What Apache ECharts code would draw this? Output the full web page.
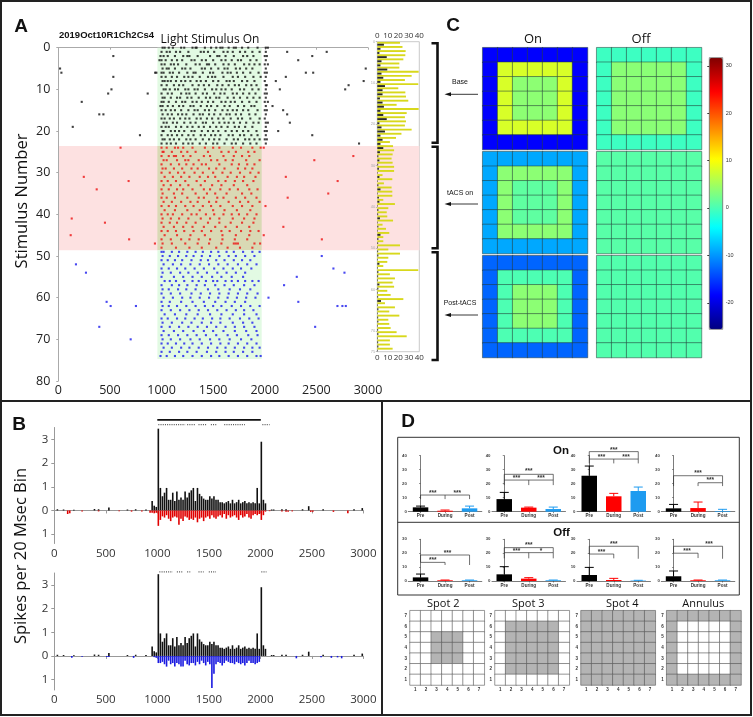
<!DOCTYPE html>
<html><head><meta charset="utf-8">
<script src="https://cdn.jsdelivr.net/npm/echarts@6/dist/echarts.min.js"></script>
<style>html,body{margin:0;padding:0;background:#fff}#c{width:753px;height:717px}</style>
</head><body><div id="c"></div>
<script>
// ---------------- DATA ----------------
const stimWindow = [960, 1970];
const tacsTrials = [23.6, 48.6];
const stimEnd = 74.7;
// Raster spike times (ms) per trial
const rasterBase = [
[1010,1030,1070,1110,1190,1220,1300,1330,1340,1420,1480,1530,1570,1590,1650,1700,1720,1780,1840,1930,2010,2030],
[1000,1050,1080,1140,1180,1260,1380,1410,1450,1510,1600,1640,1690,1760,1810,1880,1950,2010,2217,2600],
[990,1020,1060,1130,1210,1250,1270,1350,1470,1540,1560,1620,1700,1790,1830,1890,2000,2020,533,2460],
[980,1000,1040,1100,1150,1200,1290,1320,1390,1430,1500,1580,1620,1680,1740,1770,1860,1920,2010,2324],
[1000,1030,1090,1120,1160,1240,1330,1370,1440,1460,1520,1600,1650,1710,1800,1850,1900,1950,2000,2030],
[1010,1050,1070,1130,1200,1230,1280,1390,1420,1480,1550,1610,1640,1720,1760,1820,1880,2010,17,2978],
[950,1000,1020,1080,1110,1170,1250,1310,1330,1400,1470,1500,1590,1640,1670,1730,1790,1860,1940,2000,2020,30,938,2398,2469],
[1000,1040,1100,1150,1220,1260,1300,1370,1450,1490,1520,1600,1690,1740,1810,1890,1960,2010,533,2204],
[1010,1030,1060,1090,1140,1190,1230,1280,1340,1380,1430,1500,1550,1630,1660,1700,1780,1830,1900,2000,2107,2958],
[1000,1050,1120,1170,1210,1300,1360,1410,1460,1540,1590,1650,1710,1750,1820,1870,1920,2010,2020,2812],
[1020,1040,1080,1130,1160,1230,1260,1320,1350,1420,1490,1530,1580,1620,1680,1760,1800,1880,1940,2010,515,2146,2779],
[1000,1060,1100,1190,1240,1270,1330,1400,1440,1510,1570,1610,1690,1730,1790,1850,1910,2000,2020,483,866],
[1010,1030,1090,1150,1180,1250,1290,1360,1430,1470,1530,1560,1640,1700,1760,1830,1890,1950,2010],
[1000,1020,1070,1140,1200,1230,1300,1340,1390,1450,1500,1580,1620,1670,1710,1780,1850,1920,2000,2030,227],
[990,1010,1060,1110,1170,1210,1280,1310,1380,1440,1480,1540,1610,1660,1740,1800,1870,1900,2010,2075],
[1000,1040,1090,1130,1190,1260,1320,1350,1420,1460,1520,1590,1640,1690,1730,1790,1840,1930,2000,2020,2178],
[1010,1060,1100,1160,1200,1240,1310,1370,1400,1460,1510,1570,1630,1660,1720,1770,1850,1910,2010,397,437,2217],
[1000,1030,1080,1120,1180,1230,1270,1340,1380,1440,1490,1550,1600,1670,1740,1780,1860,1950,2000],
[1020,1050,1110,1150,1220,1280,1330,1400,1430,1500,1560,1610,1650,1700,1760,1820,1890,1940,2010,2030,2243],
[1000,1040,1070,1140,1190,1250,1300,1360,1410,1470,1530,1580,1640,1710,1750,1810,1880,2010,140],
[1010,1020,1090,1130,1170,1220,1290,1320,1390,1450,1500,1550,1620,1680,1730,1790,1840,1920,2000,2020,2130],
[1000,1060,1100,1150,1200,1260,1310,1380,1420,1480,1520,1570,1650,1690,1760,1800,1870,1930,2010,791,2460],
[1010,1030,1080,1120,1170,1240,1280,1330,1400,1460,1510,1560,1630,1700,1740,1810,1850,1900,1950,2000,2020],
[1000,1050,1090,1140,1210,1260,1300,1370,1430,1500,1540,1610,1680,1720,1790,1860,1920,2010,2913]
];
const rasterTacs = [
[1000,1050,1130,1160,1210,1300,1420,1500,1560,1690,1770,1880,1960,1990,603],
[1010,1020,1100,1190,1250,1330,1450,1580,1650,1720,1840,1900],
[1000,1070,1120,1140,1210,1280,1410,1470,1600,1700,1780,1850,2858],
[1020,1050,1150,1230,1260,1360,1480,1540,1620,1690,1820,1950,2480],
[1000,1090,1170,1240,1310,1390,1430,1560,1680,1750,1830,1900],
[1010,1040,1120,1200,1290,1350,1460,1530,1610,1740,1810,1880],
[1000,1080,1160,1220,1320,1400,1500,1590,1670,1760,1860,1940],
[1030,1110,1190,1270,1370,1450,1520,1640,1730,1800,1910,247,2204],
[1000,1060,1140,1230,1340,1420,1550,1620,1710,1790,1890,681,2706],
[1020,1090,1180,1260,1380,1490,1580,1700,1830],
[1000,1070,1150,1210,1300,1410,1470,1570,1660,1740,1850,1930,372],
[1010,1120,1200,1330,1440,1520,1630,1780,1870,2615],
[1000,1050,1130,1250,1360,1410,1540,1600,1720,1810,1920,2222],
[1020,1100,1190,1280,1350,1460,1530,1650,1760,1840,1950],
[1000,1070,1140,1230,1310,1400,1480,1570,1690,1780,1880,2007],
[1030,1130,1250,1370,1500,1610,1730,1860],
[1000,1060,1110,1200,1290,1340,1430,1510,1600,1680,1750,1830,1920],
[1010,1090,1170,1260,1380,1470,1560,1690,1800,1900,130],
[1000,1080,1150,1240,1330,1450,1560,1670,1780,1890,452],
[1020,1120,1210,1300,1410,1520,1620,1730,1850,2180],
[1000,1060,1140,1220,1310,1390,1480,1580,1660,1770,1860,1940],
[1030,1150,1280,1420,1590,1720,1850,1990,120],
[1000,1090,1190,1270,1360,1470,1590,1710,1830,686,2553],
[1010,1100,1230,1350,1460,1580,1700,1720,1740,1900,1955,936],
[1000,1140,1270,1390,1530,1640,1760,1880]
];
const rasterPost = [
[1000,1020,1100,1170,1250,1330,1400,1480,1550,1630,1700,1790,1880,1950],
[1010,1080,1160,1240,1310,1390,1470,1560,1650,1720,1810,1900,2552],
[1000,1060,1130,1200,1290,1380,1450,1530,1610,1700,1780,1860],
[1020,1110,1190,1280,1370,1460,1550,1640,1740,1830,1920,171],
[1000,1070,1150,1230,1320,1410,1510,1600,1690,1770,1870,2665],
[1010,1090,1180,1260,1350,1440,1540,1630,1720,1810,268,2772],
[1000,1120,1210,1300,1390,1490,1580,1680,1790,2310],
[1030,1080,1140,1220,1300,1360,1430,1500,1540,1620,1680,1740,1810,1880,1940],
[1000,1100,1170,1250,1340,1420,1520,1610,1700,1800,1900,2187],
[1010,1070,1160,1240,1330,1450,1550,1660,1760,1860],
[1000,1090,1180,1290,1380,1470,1560,1650,1740,1830,1930],
[1020,1110,1200,1280,1370,1460,1550,1640,1730,1820,1910,2036],
[1000,1080,1190,1300,1410,1520,1620,1710,1810,468,2325],
[1010,1070,1150,1240,1330,1420,1500,1580,1680,1770,1860,1950,507,752,2704,2752,2785],
[1000,1090,1180,1270,1360,1450,1540,1630,1720,1800,1890],
[1030,1130,1240,1350,1470,1580,1690,1800,1920],
[1000,1060,1150,1230,1320,1400,1490,1570,1660,1760,1850,1940],
[1010,1100,1200,1290,1390,1480,1570,1690,1790,1880],
[1000,1080,1170,1260,1350,1440,1530,1620,1710,1800,1900,397,2488],
[1020,1120,1210,1310,1410,1500,1600,1710,1820,1920],
[1000,1070,1160,1250,1340,1430,1530,1640,1730,1840,1930],
[1010,1090,1180,1280,1370,1470,1560,1660,1770,1870,701],
[1000,1060,1140,1220,1300,1390,1480,1570,1650,1740,1830,1920],
[1020,1100,1190,1270,1360,1450,1540,1620,1710,1800,1880,1950],
[1000,1080,1170,1250,1340,1440,1530,1620,1700,1790,1880],
[990,1050,1130,1210,1300,1390,1480,1560,1650,1740,1830,1920,1960]
];
// Per-trial spike counts (strip histogram)
const stripLight = [21.6,24,27,26.7,24.8,21,21,39.4,32.7,26.3,39,20,26.7,27.3,29.5,18.4,39.4,28,26.3,27.3,26.3,32.7,23,17.8,
 12,15,16,14.6,13.6,14.6,16,16,5,14.3,6.3,13.6,14.3,14.3,5.7,16.8,10.5,9,9.5,15,5,8.3,11.4,5.7,5.7,
 21.6,10.5,21.6,10.5,9.5,5.7,39,12,16.8,14.6,16,9.5,12.7,24.8,7.3,16.8,11.4,21,10.5,11.4,12.7,18.4,28,12,12,14.6];
const stripDark = [6.3,3,2,9,4,3,9.5,4,5.7,3,7.3,5,5,2.5,5,6.3,3,5.7,9,2,4,7.3,3,5,
 3,5.7,2.5,1,2,0.8,1.5,0.5,2,0.5,1,3,0.5,1.5,2,0.5,1,0.8,2.5,0.5,1,0.5,3,1,0.8,
 0.5,0.8,1,0.5,2,0.5,1,0.8,0.5,2,1,0.5,0.8,3.5,0.5,1,0.5,0.8,1,0.5,0.8,1,0.5,0.8,1,0.5];
// PSTH, 20 ms bins, 0-3000 ms
const binMs = 20;
const histBase = [0,0.05,0,0,0.04,0,0,0,0,0.03, 0,0,0,0,0,0,0,0,0,0.06, 0,0.05,0,0,0,0,0.12,0,0,0, 0,0,0,0,0,0.04,0,0,0,0.05,
 0,0,0,0,0.04,0,0, 0.4,0.2,0.15,
 3.45,0.95,0.6,0.75,0.95,0.45,0.45,0.75,0.4,0.8, 0.45,0.55,0.45,0.8,0.55,0.75,0.85,0.95,0.4,0.95,
 0.7,0.6,0.5,0.45,0.45,0.6,0.5,0.6,0.45,0.45, 0.35,0.35,0.3,0.35,0.4,0.3,0.45,0.3,0.35,0.45,
 0.3,0.35,0.4,0.3,0.35,0.3,0.35,0.3,0.95,0.3,
 2.9,0.45,0.3,0,0,0.04,0.04,0,0,0, 0.05,0,0.05,0,0,0,0,0,0,0, 0.05,0,0,0.18,0,0,0,0,0,0,
 0.05,0,0,0,0,0,0,0,0,0, 0,0,0,0,0,0.05,0,0,0,0.1];
const histTacs = [0,0,0,0,0,0,0.15,0.12,0,0, 0,0,0,0.04,0,0,0,0,0,0, 0,0.04,0,0,0,0,0,0,0,0, 0,0.03,0,0,0,0,0,0.05,0,0,
 0,0,0.04,0,0,0,0.1, 0.1,0.12,0.1,
 0.65,0.4,0.25,0.3,0.2,0.35,0.45,0.3,0.25,0.3, 0.6,0.35,0.45,0.25,0.3,0.4,0.35,0.4,0.3,0.5,
 0.35,0.3,0.45,0.3,0.25,0.35,0.2,0.3,0.35,0.25, 0.2,0.3,0.15,0.35,0.2,0.3,0.25,0.2,0.3,0.4,
 0.2,0.3,0.25,0.15,0.3,0.35,0.2,0.15,0.2,0.15,
 0.4,0.2,0.05,0,0.03,0,0,0,0,0, 0.04,0,0.05,0.05,0,0.04,0,0,0,0, 0,0,0,0,0.06,0.05,0,0,0,0,
 0,0,0,0,0,0.06,0,0,0,0, 0,0,0.12,0,0,0,0,0,0,0];
const histPost = [0,0,0,0,0,0,0,0,0.08,0, 0,0,0,0.03,0,0,0,0,0,0, 0,0,0,0,0,0.04,0.04,0,0,0, 0,0,0,0,0,0,0,0,0.08,0,
 0,0,0,0,0,0,0, 0,0.05,0.08,
 0.3,0.3,0.25,0.35,0.45,0.2,0.35,0.3,0.45,0.3, 0.35,0.45,0.45,0.2,0.35,0.4,0.3,0.3,0.4,0.25,
 0.35,0.2,0.3,0.4,0.25,0.35,1.35,0.75,0.35,0.25, 0.3,0.4,0.3,0.2,0.25,0.3,0.3,0.35,0.25,0.3,
 0.35,0.3,0.4,0.3,0.2,0.3,0.3,0.35,0.3,0.25,
 0,0,0,0,0,0,0,0,0,0, 0,0,0,0,0,0,0,0.1,0,0, 0,0,0,0,0,0,0,0,0,0.05,
 0,0,0,0,0.08,0,0,0.06,0,0.1, 0,0,0,0,0,0,0,0,0,0];
const respLine = [1000, 2005, 3.82];
const sigTop = [[1010,1270],[1290,1370],[1400,1480],[1520,1580],[1650,1850],[2020,2090]];
const sigBot = [[1020,1150],[1190,1245],[1290,1320],[1400,1450],[1500,1570],[2010,2060]];
// Receptive-field maps (7x7), ring layout and ring values
const ringLayout = [
 [0,0,0,0,0,0,0],
 [0,1,1,1,1,1,0],
 [0,1,2,2,2,1,0],
 [0,1,2,2,2,1,0],
 [0,1,2,2,2,1,0],
 [0,1,1,1,1,1,0],
 [0,0,0,0,0,0,0]];
const heatOnRings  = [[-18.5,8,3.8],[-9,3.7,1.2],[-12.8,0.2,3.7]];   // Base, tACS on, Post-tACS
const heatOffRings = [[-0.7,3.6,3.6],[0.8,0.8,0.8],[0.5,0.5,0.5]];
const cbRange = [-25.6, 31.7];
const cbTicks = [-20,-10,0,10,20,30];
// Panel D
const dCats = ['Pre','During','Post'];
const dOnMeans = [[3.1,0.7,2.4],[9.0,2.9,1.9],[25.7,11.0,14.8],[2.4,2.6,0.5]];
const dOnErr   = [[0.9,0.5,1.6],[4.8,0.4,1.4],[6.9,2.1,2.8],[2.8,4.3,1.2]];
const dOffMeans = [[2.6,0.5,0.5],[4.8,1.7,0.5],[4.3,0.7,0.3],[3.4,0.5,0.5]];
const dOffErr   = [[2.4,0.2,0.2],[5.5,0.7,0.2],[5.5,1.2,0.2],[3.8,0.2,0.2]];
const dOnBrackets = [
 [[[0,9],[0,11.9],[2,11.9],[2,9]], [[1,11.9],[1,9]]],
 [[[0,22.6],[0,26.7],[2,26.7],[2,22.6]], [[0,19],[0,22.6],[2,22.6],[2,19]], [[1,22.6],[1,19]]],
 [[[0,37.6],[0,42.9],[2,42.9],[2,37.6]], [[0,34.5],[0,37.6],[2,37.6],[2,34.5]], [[1,37.6],[1,34.5]]],
 [[[0,18.3],[0,25.7],[2,25.7],[2,20.7]], [[1,18.3],[1,20.7],[2,20.7],[2,18.3]]]];
const dOnStars = [
 [[0.5,14.3,'***'],[1.5,14.3,'***']],
 [[1,29.8,'***'],[0.5,24.6,'***'],[1.5,24.6,'***']],
 [[1,45,'***'],[0.5,40,'***'],[1.5,40,'***']],
 [[1,28.3,'***'],[1.5,23,'***']]];
const dOffBrackets = [
 [[[0,13.4],[0,18.7],[2,18.7],[2,11.5]], [[0,13.4],[1,13.4],[1,11.5]]],
 [[[0,20.4],[0,24],[2,24],[2,20.4]], [[0,16.3],[0,20.4],[2,20.4],[2,16.3]], [[1,20.4],[1,16.3]]],
 [[[0,19.4],[0,25],[2,25],[2,16]], [[0,19.4],[1,19.4],[1,16.3]]],
 [[[0,20],[0,25],[2,25],[2,16]], [[0,20],[1,20],[1,16.5]]]];
const dOffStars = [
 [[1.1,20.9,'***'],[0.5,15.9,'***']],
 [[1,26.4,'***'],[0.5,22.3,'***'],[1.5,22.3,'*']],
 [[1,27.4,'***'],[0.5,21.8,'***']],
 [[1.45,27.2,'***'],[0.55,22.3,'***']]];
const spotNames = ['Spot 2','Spot 3','Spot 4','Annulus'];
const spotRings = [[2],[1,2],[0,1,2],[0]];
const gridLabels = ['1','2','3','4','5','6','7'];

// ---------------- BUILD ----------------
const F = "'Open Sans', sans-serif";
const FA = "'Liberation Sans', Arial, sans-serif";
const plain = v => String(v);
const grids=[], xAxes=[], yAxes=[], series=[];
const addG=g=>{grids.push(g);return grids.length-1;};
const addX=a=>{xAxes.push(a);return xAxes.length-1;};
const addY=a=>{yAxes.push(a);return yAxes.length-1;};
const hiddenVal = (gi,min,max)=>({gridIndex:gi,type:'value',min,max,show:false,splitLine:{show:false}});

// Panel A raster
const gA = addG({left:58.3, top:47.7, width:309.7, height:333.3});
const xA = addX({gridIndex:gA,type:'value',min:0,max:3000,interval:500,
  axisLine:{lineStyle:{color:'#aaa'}},axisTick:{length:2,lineStyle:{color:'#aaa'}},
  axisLabel:{fontSize:12.5,color:'#222',fontFamily:F,margin:3,formatter:plain},splitLine:{show:false}});
const yA = addY({gridIndex:gA,type:'value',min:0,max:80,interval:10,inverse:true,
  axisLine:{show:true,lineStyle:{color:'#aaa'}},axisTick:{show:true,length:2,lineStyle:{color:'#aaa'}},
  axisLabel:{fontSize:12.5,color:'#222',fontFamily:F,margin:8,formatter:plain},splitLine:{show:false}});
series.push({type:'scatter',xAxisIndex:xA,yAxisIndex:yA,data:[],z:1,silent:true,
  markArea:{silent:true,data:[
    [{xAxis:stimWindow[0],yAxis:0,itemStyle:{color:'#e2fae3'}},{xAxis:stimWindow[1],yAxis:tacsTrials[0]}],
    [{xAxis:stimWindow[0],yAxis:tacsTrials[0],itemStyle:{color:'#d9d9b4'}},{xAxis:stimWindow[1],yAxis:tacsTrials[1]}],
    [{xAxis:stimWindow[0],yAxis:tacsTrials[1],itemStyle:{color:'#e2fae3'}},{xAxis:stimWindow[1],yAxis:stimEnd}]
  ]}});
function rasterPts(rows,off){const p=[];rows.forEach((r,i)=>r.forEach(t=>p.push([t,off+i])));return p;}
[[rasterBase,0,'#111'],[rasterTacs,rasterBase.length,'#ee1111'],[rasterPost,rasterBase.length+rasterTacs.length,'#1a1aee']]
 .forEach(([rows,off,col])=>series.push({type:'scatter',xAxisIndex:xA,yAxisIndex:yA,z:3,symbol:'rect',symbolSize:2.1,
   itemStyle:{color:col},data:rasterPts(rows,off)}));

// Strip histogram
const gS = addG({left:377.3, top:41.7, width:42, height:310, show:true, borderColor:'#bbb', borderWidth:0.8});
const stripAx = pos=>({gridIndex:gS,type:'value',min:0,max:40,interval:10,position:pos,
  axisLine:{show:false},axisTick:{show:false},axisLabel:{fontSize:8,color:'#333',fontFamily:F,margin:2},splitLine:{show:false}});
const xS = addX(stripAx('top')); addX(stripAx('bottom'));
const trialNames = stripLight.map((v,i)=>String(i+1));
const yS = addY({gridIndex:gS,type:'category',data:trialNames,inverse:true,show:false});
addY({gridIndex:gS,type:'value',min:0,max:75,interval:10,inverse:true,position:'left',
  axisLine:{show:false},axisTick:{show:true,length:1.5,lineStyle:{color:'#bbb'}},
  axisLabel:{fontSize:4,color:'#aaa',margin:2},splitLine:{show:false}});
series.push({type:'bar',xAxisIndex:xS,yAxisIndex:yS,data:stripLight,barWidth:1.9,barGap:'0%',itemStyle:{color:'#d8d81c'}});
series.push({type:'bar',xAxisIndex:xS,yAxisIndex:yS,data:stripDark,barWidth:1.9,barGap:'0%',itemStyle:{color:'#2a2a2a'}});

// Panel B
function psthGrid(top,height,down,downCol,sig,sigY){
  const g = addG({left:54.3, top, width:309, height});
  const xi = addX({gridIndex:g,type:'value',min:0,max:3000,interval:500,
    axisLine:{lineStyle:{color:'#999'}},axisTick:{length:3,lineStyle:{color:'#999'}},
    axisLabel:{fontSize:11.5,color:'#333',fontFamily:F,margin:4,formatter:plain},splitLine:{show:false}});
  const yi = addY({gridIndex:g,type:'value',min:3.5-height/23.7,max:3.5,
    axisLine:{show:true,lineStyle:{color:'#999'}},
    axisTick:{show:true,length:3,customValues:[-1,0,1,2,3],lineStyle:{color:'#999'}},
    axisLabel:{fontSize:11.5,color:'#333',fontFamily:F,margin:6,customValues:[-1,0,1,2,3],formatter:v=>String(Math.abs(v))},
    splitLine:{show:false}});
  series.push({type:'bar',xAxisIndex:xi,yAxisIndex:yi,barWidth:1.6,barGap:'-100%',itemStyle:{color:'#111'},
    data:histBase.map((v,i)=>[i*binMs+binMs/2,v])});
  series.push({type:'bar',xAxisIndex:xi,yAxisIndex:yi,barWidth:1.6,barGap:'-100%',itemStyle:{color:downCol},
    data:down.map((v,i)=>[i*binMs+binMs/2,-v])});
  series.push({type:'custom',xAxisIndex:xi,yAxisIndex:yi,clip:false,silent:true,
    data:sig.map(s=>[s[0],sigY]),
    renderItem:(p,api)=>{const s=sig[p.dataIndex];const a=api.coord([s[0],sigY]),b=api.coord([s[1],sigY]);
      return {type:'line',shape:{x1:a[0],y1:a[1],x2:b[0],y2:b[1]},style:{stroke:'#555',lineWidth:1.3,lineDash:[1,1.2]}};}});
  return [xi,yi];
}
const [xB1,yB1] = psthGrid(427.5,116,histTacs,'#e00000',sigTop,3.62);
series.push({type:'custom',xAxisIndex:xB1,yAxisIndex:yB1,clip:false,silent:true,data:[[respLine[0],respLine[2]]],
  renderItem:(p,api)=>{const a=api.coord([respLine[0],respLine[2]]),b=api.coord([respLine[1],respLine[2]]);
    return {type:'line',shape:{x1:a[0],y1:a[1],x2:b[0],y2:b[1]},style:{stroke:'#111',lineWidth:1.6}};}});
psthGrid(573,117,histPost,'#1a1ae0',sigBot,3.55);

// Panel C heatmaps
const heatCols=[482.7,596.7], heatRows=[47.7,151.7,255.7];
const heatSeries=[];
[heatOnRings,heatOffRings].forEach((rings,c)=>rings.forEach((rv,r)=>{
  const g=addG({left:heatCols[c],top:heatRows[r],width:104.8,height:101.8});
  const xi=addX({gridIndex:g,type:'category',data:gridLabels,show:false});
  const yi=addY({gridIndex:g,type:'category',data:gridLabels,show:false});
  const data=[];ringLayout.forEach((row,yy)=>row.forEach((k,xx)=>data.push([xx,6-yy,rv[k]])));
  heatSeries.push(series.length);
  series.push({type:'heatmap',xAxisIndex:xi,yAxisIndex:yi,data,silent:true,
    itemStyle:{borderColor:'rgba(35,60,55,0.75)',borderWidth:0.7}});
}));
// colorbar tick axis
const gCB=addG({left:709.3,top:57.7,width:13.4,height:271.6});
addX(hiddenVal(gCB,0,1));
addY({gridIndex:gCB,type:'value',min:cbRange[0],max:cbRange[1],position:'right',
  axisLine:{show:false},axisTick:{show:true,inside:true,length:2,customValues:cbTicks,lineStyle:{color:'#333'}},
  axisLabel:{fontSize:5.5,color:'#333',margin:3,customValues:cbTicks},splitLine:{show:false}});

// Panel D
const dLefts=[408.3,492,577,661.3];
function dChart(left,top,height,ymax,means,errs,brk,stars){
  const g=addG({left,top,width:73.5,height});
  const xc=addX({gridIndex:g,type:'category',data:dCats,
    axisLine:{lineStyle:{color:'#444',width:0.7}},axisTick:{show:true,alignWithLabel:true,length:1.5,lineStyle:{color:'#444',width:0.6}},
    axisLabel:{fontSize:4.6,fontWeight:'bold',color:'#333',fontFamily:FA,margin:2,interval:0}});
  const xv=addX(hiddenVal(g,-0.5,2.5));
  const yi=addY({gridIndex:g,type:'value',min:0,max:ymax,interval:10,
    axisLine:{show:true,lineStyle:{color:'#444',width:0.7}},axisTick:{show:true,length:1.5,lineStyle:{color:'#444',width:0.6}},
    axisLabel:{fontSize:4.3,fontWeight:'bold',color:'#444',fontFamily:FA,margin:1.5},splitLine:{show:false}});
  const cols=['#000000','#ff0000','#1e9bf0'];
  series.push({type:'bar',xAxisIndex:xc,yAxisIndex:yi,barWidth:15.5,silent:true,
    data:means.map((m,i)=>({value:m,itemStyle:{color:cols[i]}}))});
  series.push({type:'custom',xAxisIndex:xc,yAxisIndex:yi,clip:false,silent:true,
    data:means.map((m,i)=>[i,m+errs[i]]),
    renderItem:(p,api)=>{const i=p.dataIndex;const b=api.coord([i,means[i]]),t=api.coord([i,means[i]+errs[i]]);
      const st={stroke:cols[i],lineWidth:1};
      return {type:'group',children:[{type:'line',shape:{x1:b[0],y1:b[1],x2:t[0],y2:t[1]},style:st},
        {type:'line',shape:{x1:t[0]-4.5,y1:t[1],x2:t[0]+4.5,y2:t[1]},style:st}]};}});
  series.push({type:'custom',xAxisIndex:xv,yAxisIndex:yi,clip:false,silent:true,
    data:brk.map(b=>b[0]),
    renderItem:(p,api)=>({type:'polyline',shape:{points:brk[p.dataIndex].map(q=>api.coord(q))},
      style:{stroke:'#333',lineWidth:0.7,fill:null}})});
  series.push({type:'custom',xAxisIndex:xv,yAxisIndex:yi,clip:false,silent:true,
    data:stars.map(s=>[s[0],s[1]]),
    renderItem:(p,api)=>{const s=stars[p.dataIndex];const c=api.coord([s[0],s[1]]);
      return {type:'text',x:c[0],y:c[1]+1.2,style:{text:s[2],fontSize:6.5,fontWeight:'bold',fontFamily:FA,fill:'#333',
        textAlign:'center',textVerticalAlign:'middle',align:'center',verticalAlign:'middle'}};}});
}
dLefts.forEach((l,i)=>dChart(l,455.7,56,40,dOnMeans[i],dOnErr[i],dOnBrackets[i],dOnStars[i]));
dLefts.forEach((l,i)=>dChart(l,539.3,41.7,30,dOffMeans[i],dOffErr[i],dOffBrackets[i],dOffStars[i]));

// Spot grids
const spotLefts=[410,495,581,666.7];
const spotSeries=[];
spotLefts.forEach((l,s)=>{
  const g=addG({left:l,top:610.7,width:74.3,height:74.3});
  const xi=addX({gridIndex:g,type:'category',data:gridLabels,axisLine:{show:false},axisTick:{show:false},
    axisLabel:{fontSize:4.5,fontWeight:'bold',color:'#333',fontFamily:FA,margin:2}});
  const yi=addY({gridIndex:g,type:'category',data:gridLabels,axisLine:{show:false},axisTick:{show:false},
    axisLabel:{fontSize:4.5,fontWeight:'bold',color:'#333',fontFamily:FA,margin:3}});
  const data=[];ringLayout.forEach((row,yy)=>row.forEach((k,xx)=>data.push([xx,6-yy,spotRings[s].includes(k)?1:0])));
  spotSeries.push(series.length);
  series.push({type:'heatmap',xAxisIndex:xi,yAxisIndex:yi,data,silent:true,itemStyle:{borderColor:'#555',borderWidth:0.6}});
});

// ---------------- GRAPHICS ----------------
const txt=(x,y,t,size,opt={})=>Object.assign({type:'text',x,y,z:10,silent:true,style:Object.assign({text:t,fontSize:size,
  fontFamily:opt.family||F,fontWeight:opt.weight||'normal',fill:opt.fill||'#111',
  textAlign:opt.align||'center',textVerticalAlign:'middle'},opt.style||{})},opt.rotation?{rotation:opt.rotation}:{});
const G=[];
G.push({type:'rect',z:10,silent:true,shape:{x:1,y:1,width:750,height:714},style:{fill:null,stroke:'#222',lineWidth:2}});
G.push({type:'line',z:10,silent:true,shape:{x1:1,y1:401,x2:751,y2:401},style:{stroke:'#222',lineWidth:2}});
G.push({type:'line',z:10,silent:true,shape:{x1:382,y1:401,x2:382,y2:715},style:{stroke:'#222',lineWidth:2}});
G.push(txt(21,27,'A',19,{family:FA,weight:'bold'}));
G.push(txt(19,425,'B',19,{family:FA,weight:'bold'}));
G.push(txt(453,26,'C',19,{family:FA,weight:'bold'}));
G.push(txt(408,422,'D',19,{family:FA,weight:'bold'}));
G.push(txt(59,35,'2019Oct10R1Ch2Cs4',9.5,{family:FA,weight:'bold',align:'left'}));
G.push(txt(210,39.5,'Light Stimulus On',12,{}));
G.push(txt(22,201,'Stimulus Number',16.5,{rotation:Math.PI/2}));
G.push(txt(21,556,'Spikes per 20 Msec Bin',16.5,{rotation:Math.PI/2}));
// brackets and arrows
[[43.3,142.7],[146.7,248.3],[252.3,360]].forEach(([t,b])=>G.push({type:'polyline',z:10,silent:true,
  shape:{points:[[431.5,t],[437.5,t],[437.5,b],[431.5,b]]},style:{stroke:'#111',lineWidth:2.6,fill:null}}));
[['Base',81.7,94.3],['tACS on',192.7,204],['Post-tACS',303.3,315]].forEach(([t,ty,ay])=>{
  G.push(txt(460,ty,t,7,{family:FA}));
  G.push({type:'line',z:10,silent:true,shape:{x1:449,y1:ay,x2:478,y2:ay},style:{stroke:'#222',lineWidth:0.9}});
  G.push({type:'polygon',z:10,silent:true,shape:{points:[[444.5,ay],[451,ay-2],[451,ay+2]]},style:{fill:'#111'}});
});
G.push(txt(533,39,'On',13,{}));
G.push(txt(641,39,'Off',13,{}));
G.push({type:'rect',z:10,silent:true,shape:{x:709.3,y:57.7,width:13.4,height:271.6},style:{fill:null,stroke:'#444',lineWidth:0.6}});
// D box
G.push({type:'rect',z:10,silent:true,shape:{x:397.7,y:437.3,width:341.6,height:157.7},style:{fill:null,stroke:'#333',lineWidth:1}});
G.push({type:'line',z:10,silent:true,shape:{x1:397.7,y1:522.3,x2:739.3,y2:522.3},style:{stroke:'#333',lineWidth:1}});
G.push(txt(561,450.7,'On',11.5,{family:FA,weight:'bold'}));
G.push(txt(561.5,533.3,'Off',11.5,{family:FA,weight:'bold'}));
[443.3,528.3,622.3,703.3].forEach((x,i)=>G.push(txt(x,604.3,spotNames[i],11,{})));

const chart = echarts.init(document.getElementById('c'));
chart.setOption({
  animation:false,
  grid:grids, xAxis:xAxes, yAxis:yAxes, series,
  visualMap:[
    {type:'continuous',seriesIndex:heatSeries,min:cbRange[0],max:cbRange[1],
     inRange:{color:['#000080','#0000ff','#0080ff','#00ffff','#80ff80','#ffff00','#ff8000','#ff0000','#800000']},
     left:709.3,top:57.7,itemWidth:13.4,itemHeight:271.6,padding:0,calculable:false,orient:'vertical',hoverLink:false},
    {type:'piecewise',seriesIndex:spotSeries,show:false,pieces:[{value:0,color:'#ffffff'},{value:1,color:'#b4b4b4'}]}
  ],
  graphic:{elements:G}
});
const p1=chart.convertToPixel({xAxisIndex:xA,yAxisIndex:yA},[0,tacsTrials[0]]);
const p2=chart.convertToPixel({xAxisIndex:xA,yAxisIndex:yA},[0,tacsTrials[1]]);
const pR=chart.convertToPixel({xAxisIndex:xS,yAxisIndex:yS},[40,0]);
G.push({type:'rect',z:0,silent:true,shape:{x:p1[0],y:p1[1],width:pR[0]-p1[0],height:p2[1]-p1[1]},style:{fill:'#fde1e1'}});
chart.setOption({graphic:{elements:G}});
</script></body></html>
